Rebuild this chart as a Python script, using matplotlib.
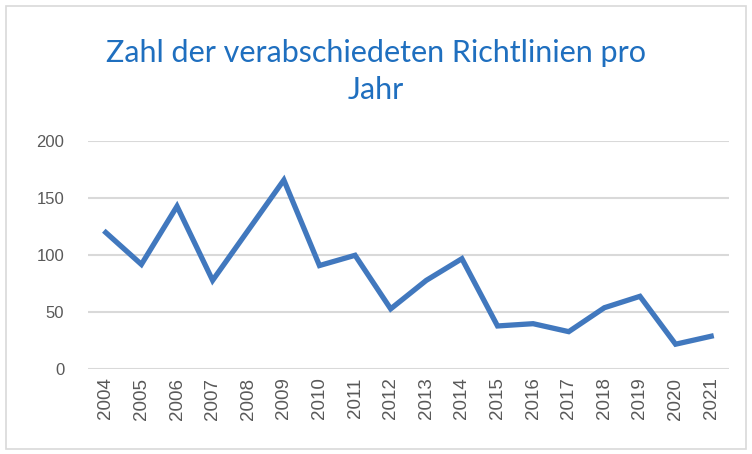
import matplotlib

matplotlib.use("Agg")
import matplotlib.pyplot as plt
from matplotlib.patches import Rectangle

years = [str(y) for y in range(2004, 2022)]
counts = [120, 92, 143, 78, 122, 166, 91, 100, 53, 78, 97, 38, 40, 33, 54, 64, 22, 29]
y_ticks = [0, 50, 100, 150, 200]

fig = plt.figure(figsize=(7.52, 4.54), dpi=100)
fig.patches.append(Rectangle((0.008, 0.01), 0.984, 0.977, transform=fig.transFigure,
                             fill=False, edgecolor="#D9D9D9", linewidth=1.2))

ax = fig.add_axes([0.117, 0.1866, 0.8524, 0.5022])
x = list(range(len(years)))
ax.plot(x, counts, color="#4178BE", linewidth=3.8, solid_joinstyle="miter", zorder=3)

ax.set_xlim(-0.5, len(years) - 0.5)
ax.set_ylim(0, 200)
ax.set_yticks(y_ticks)
ax.set_xticks(x)
ax.set_xticklabels(years, rotation=90, fontsize=13.5, color="#595959",
                   family="Liberation Sans")
ax.set_yticklabels([str(v) for v in y_ticks], fontsize=12, color="#595959",
                   family="Liberation Sans")
ax.tick_params(axis="both", length=0)
ax.tick_params(axis="y", pad=17)
ax.tick_params(axis="x", pad=6)
for s in ax.spines.values():
    s.set_visible(False)
ax.yaxis.grid(True, color="#D9D9D9", linewidth=1.5)
ax.set_axisbelow(True)

fig.text(0.5, 0.843, "Zahl der verabschiedeten Richtlinien pro\nJahr", ha="center", va="center",
         fontsize=22, color="#1F6FBF", family="Lato", linespacing=1.38)

fig.savefig("out.png", dpi=100)
